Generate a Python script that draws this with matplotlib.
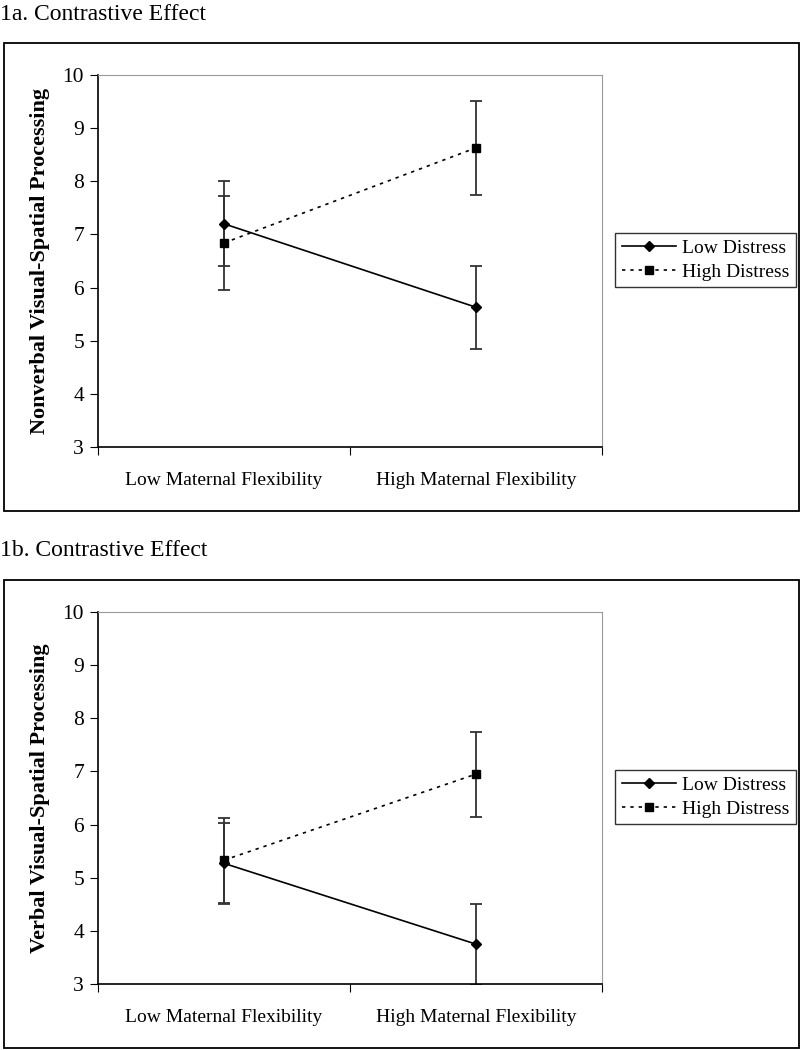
import matplotlib
matplotlib.use("Agg")
import matplotlib.pyplot as plt
from matplotlib.patches import Rectangle
from matplotlib.lines import Line2D

plt.rcParams['font.family'] = ['Liberation Serif', 'DejaVu Serif']

categories = ["Low Maternal Flexibility", "High Maternal Flexibility"]
series_names = ["Low Distress", "High Distress"]

# panel 1a
low_a = [7.20, 5.63]
low_a_err = [0.80, 0.78]
high_a = [6.84, 8.63]
high_a_err = [0.88, 0.88]

# panel 1b
low_b = [5.27, 3.75]
low_b_err = [0.76, 0.76]
high_b = [5.33, 6.95]
high_b_err = [0.80, 0.80]

panels = [
    ("1a. Contrastive Effect", "Nonverbal Visual-Spatial Processing", low_a, low_a_err, high_a, high_a_err),
    ("1b. Contrastive Effect", "Verbal Visual-Spatial Processing", low_b, low_b_err, high_b, high_b_err),
]

fig = plt.figure(figsize=(8, 10.5), dpi=100)
W, H = 800, 1050

# pixel layout: (title y, frame top, frame bottom, axes top, axes bottom, legend centre y)
layout = [
    (14, 43, 511, 75, 447, 260),
    (550, 580, 1048, 612, 984, 797),
]

dotted = (0, (2, 3))
x = [0.5, 1.5]
for (title, ylab, low, low_e, high, high_e), (ty, ft, fb, at, ab, ly) in zip(panels, layout):
    fig.text(0.0, 1 - ty / H, title, fontsize=17, va='center', ha='left')
    fig.add_artist(Rectangle((4 / W, 1 - fb / H), 795 / W, (fb - ft) / H,
                             transform=fig.transFigure, fill=False,
                             edgecolor='black', linewidth=1.3))
    ax = fig.add_axes([98 / W, 1 - ab / H, 504 / W, (ab - at) / H])
    ax.errorbar(x, low, yerr=low_e, color='black', marker='D', markersize=5.5,
                linewidth=1.2, ecolor='#333333', elinewidth=1.3, capsize=4,
                capthick=1.3)
    ax.errorbar(x, high, yerr=high_e, color='black', marker='s', markersize=5.5,
                linewidth=1.2, linestyle=dotted, ecolor='#333333',
                elinewidth=1.3, capsize=4, capthick=1.3)
    ax.set_xlim(0, 2)
    ax.set_ylim(3, 10)
    ax.set_yticks(range(3, 11))
    ax.set_xticks([0, 1, 2])
    ax.set_xticklabels([])
    ax.set_xticks(x, minor=True)
    ax.set_xticklabels(categories, minor=True)
    ax.tick_params(axis='x', which='minor', length=0, pad=18, labelsize=14)
    ax.tick_params(axis='x', which='major', direction='out', length=6)
    ax.tick_params(axis='y', direction='out', length=6, labelsize=15.5, pad=4)
    for s in ['top', 'right']:
        ax.spines[s].set_color('#999999')
    for s in ['left', 'bottom']:
        ax.spines[s].set_color('black')
        ax.spines[s].set_linewidth(1.2)
    fig.text(40 / W, 1 - (at + ab) / 2 / H, ylab, rotation=90, fontsize=16,
             fontweight='bold', ha='center', va='center')
    handles = [
        Line2D([], [], color='black', marker='D', markersize=5.5, linewidth=1.2),
        Line2D([], [], color='black', marker='s', markersize=5.5, linewidth=1.2,
               linestyle=dotted),
    ]
    leg = fig.legend(handles, series_names, loc='center left',
                     bbox_to_anchor=(615 / W, 1 - ly / H), fontsize=14,
                     frameon=True, fancybox=False, borderpad=0.35,
                     handlelength=2.8, handletextpad=0.3, labelspacing=0.3,
                     borderaxespad=0)
    leg.get_frame().set_edgecolor('black')
    leg.get_frame().set_linewidth(1.0)

fig.savefig("out.png", dpi=100)
